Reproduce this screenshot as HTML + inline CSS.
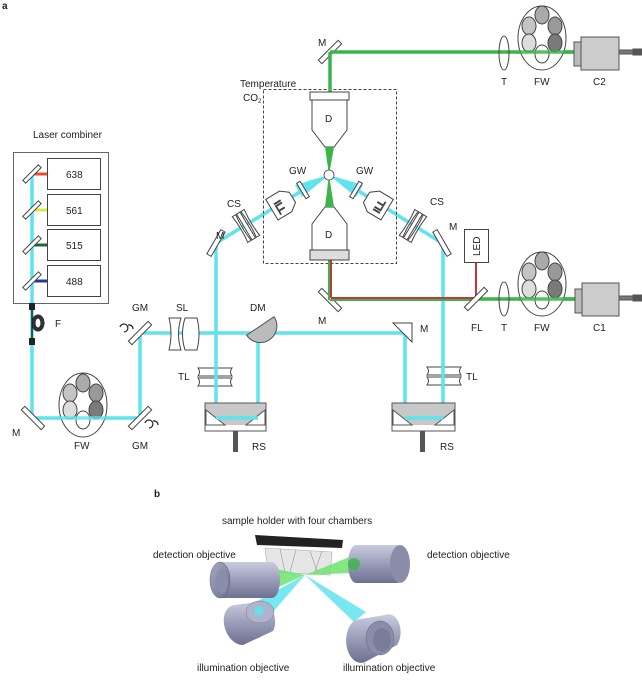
<!DOCTYPE html>
<html><head><meta charset="utf-8"><style>
body{margin:0;background:#fff}
svg{display:block}
text{font-family:"Liberation Sans",sans-serif;font-size:10px;fill:#222}
</style></head><body>
<svg width="642" height="700" viewBox="0 0 642 700" xmlns="http://www.w3.org/2000/svg">
<defs>
<linearGradient id="cyl" x1="0" y1="0" x2="0" y2="1">
<stop offset="0" stop-color="#c9cce0"/><stop offset="0.5" stop-color="#9a9db8"/><stop offset="1" stop-color="#6d7090"/>
</linearGradient>
<linearGradient id="face" x1="0" y1="0" x2="1" y2="1">
<stop offset="0" stop-color="#a8abc4"/><stop offset="1" stop-color="#6a6d8c"/>
</linearGradient>
</defs>
<text x="2" y="9" font-weight="bold" font-size="11">a</text>
<text x="33" y="138">Laser combiner</text>
<rect x="13.5" y="152.5" width="95" height="151" fill="#fff" stroke="#666"/>
<g fill="#fff" stroke="#444">
<rect x="47.5" y="158.5" width="53" height="31"/><rect x="47.5" y="194.5" width="53" height="31"/>
<rect x="47.5" y="229.5" width="53" height="31"/><rect x="47.5" y="265.5" width="53" height="31"/>
</g>
<text x="66" y="178">638</text><text x="66" y="214">561</text><text x="66" y="249">515</text><text x="66" y="285">488</text>
<line x1="32" y1="174" x2="32" y2="418" stroke="#5fe3ee" stroke-width="3.5"/>
<line x1="32" y1="174" x2="47" y2="174" stroke="#e8502a" stroke-width="3"/>
<line x1="32" y1="210" x2="47" y2="210" stroke="#d4ef3c" stroke-width="3"/>
<line x1="32" y1="245" x2="47" y2="245" stroke="#1d6a38" stroke-width="3"/>
<line x1="32" y1="281" x2="47" y2="281" stroke="#28389a" stroke-width="3"/>
<rect x="29" y="303" width="6" height="7" fill="#222"/><rect x="29" y="338" width="6" height="7" fill="#222"/>
<line x1="32" y1="310" x2="32" y2="338" stroke="#222" stroke-width="1.5"/>
<g fill="none" stroke="#222" stroke-width="1"><ellipse cx="38" cy="323" rx="6" ry="8"/><ellipse cx="38" cy="323" rx="5" ry="7"/><ellipse cx="38" cy="323" rx="4" ry="6"/><ellipse cx="38" cy="323" rx="3" ry="5"/></g>
<text x="55" y="327">F</text>
<g stroke="#5fe3ee" stroke-width="3.5" fill="none">
<polyline points="32,418 140,418 140,333 405,333 405,418 443,418 443,243 442,243 357,190"/>
<polyline points="216,243 216,418 258,418 258,333"/>
<line x1="216" y1="243" x2="300" y2="192"/>
</g>
<polygon points="329,175 295,185 302,197" fill="#5fe3ee"/>
<polygon points="329,175 363,185 356,197" fill="#5fe3ee"/>
<g fill="#fff" stroke="#444">
<g transform="translate(32,174) rotate(-45)"><rect x="-11" y="-2" width="22" height="4"/></g>
<g transform="translate(32,210) rotate(-45)"><rect x="-11" y="-2" width="22" height="4"/></g>
<g transform="translate(32,245) rotate(-45)"><rect x="-11" y="-2" width="22" height="4"/></g>
<g transform="translate(32,281) rotate(-45)"><rect x="-11" y="-2" width="22" height="4"/></g>
<g transform="translate(33,418) rotate(45)"><rect x="-14" y="-2.5" width="28" height="5"/></g>
<g transform="translate(140,418) rotate(-45)"><rect x="-14" y="-2.5" width="28" height="5"/></g>
<g transform="translate(140,333) rotate(-45)"><rect x="-14" y="-2.5" width="28" height="5"/></g>
<g transform="translate(216,243) rotate(-60)"><rect x="-14" y="-2.5" width="28" height="5"/></g>
<g transform="translate(442,243) rotate(60)"><rect x="-14" y="-2.5" width="28" height="5"/></g>
<g transform="translate(330,52) rotate(-45)"><rect x="-14" y="-2.5" width="28" height="5"/></g>
<g transform="translate(330,300) rotate(45)"><rect x="-14" y="-2.5" width="28" height="5"/></g>
</g>
<polygon points="393,323 412,323 412,342" fill="#fff" stroke="#444"/>
<g fill="none" stroke="#222" stroke-width="1.2">
<path d="M120,327 a4,4 0 1 1 4,5"/><path d="M128,325 a4,4 0 0 1 5,4"/>
<path d="M145,423 a4,4 0 1 1 4,5"/><path d="M153,421 a4,4 0 0 1 5,4"/>
</g>
<text x="132" y="311">GM</text><text x="132" y="449">GM</text>
<text x="12" y="436">M</text>
<g stroke="#444"><ellipse cx="83" cy="405" rx="24" ry="32" fill="#fff"/>
<ellipse cx="83" cy="383" rx="7" ry="9" fill="#aaa"/><ellipse cx="70" cy="393" rx="7" ry="9" fill="#c4c4c4"/>
<ellipse cx="96" cy="393" rx="7" ry="9" fill="#999"/><ellipse cx="70" cy="410" rx="7" ry="9" fill="#ddd"/>
<ellipse cx="96" cy="410" rx="7" ry="9" fill="#7a7a7a"/><ellipse cx="83" cy="420" rx="7" ry="9" fill="#fff"/></g>
<line x1="59" y1="418" x2="107" y2="418" stroke="#5fe3ee" stroke-width="3.5" opacity="0.8"/>
<text x="74" y="449">FW</text>
<g fill="#fff" stroke="#444">
<path d="M169,318 h12 q-5,16 0,32 h-12 q4,-16 0,-32z"/>
<path d="M185,318 h12 q4,16 0,32 h-12 q-5,-16 0,-32z"/>
</g>
<text x="176" y="311">SL</text>
<path d="M246,334 L275,318 A16,16 0 0 1 246,334z" fill="#bbb" stroke="#555" transform="rotate(-5 260 328)"/>
<text x="250" y="311">DM</text>
<g fill="#fff" stroke="#444">
<path d="M198,368 h34 q-3,4 0,8 h-34 q3,-4 0,-8z"/><path d="M198,378 h34 q-3,4 0,8 h-34 q3,-4 0,-8z"/>
<path d="M427,367 h34 q-3,4 0,8 h-34 q3,-4 0,-8z"/><path d="M427,377 h34 q-3,4 0,8 h-34 q3,-4 0,-8z"/>
</g>
<line x1="216" y1="366" x2="216" y2="388" stroke="#5fe3ee" stroke-width="3.5"/>
<line x1="443" y1="365" x2="443" y2="388" stroke="#5fe3ee" stroke-width="3.5"/>
<text x="178" y="380">TL</text><text x="466" y="380">TL</text>
<g>
<rect x="205" y="403" width="61" height="28" fill="#fff" stroke="#555"/>
<rect x="205" y="403" width="61" height="22" fill="#c8c8c8"/>
<polygon points="206,410 225,425 206,425" fill="#fff" stroke="#555"/>
<polygon points="265,410 246,425 265,425" fill="#fff" stroke="#555"/>
<rect x="205" y="403" width="61" height="28" fill="none" stroke="#555"/>
<rect x="233" y="431" width="5" height="21" fill="#555"/>
<rect x="392" y="403" width="63" height="28" fill="#fff" stroke="#555"/>
<rect x="392" y="403" width="63" height="22" fill="#c8c8c8"/>
<polygon points="393,410 412,425 393,425" fill="#fff" stroke="#555"/>
<polygon points="454,410 435,425 454,425" fill="#fff" stroke="#555"/>
<rect x="392" y="403" width="63" height="28" fill="none" stroke="#555"/>
<rect x="420" y="431" width="5" height="21" fill="#555"/>
</g>
<line x1="216" y1="418" x2="258" y2="418" stroke="#5fe3ee" stroke-width="3.5"/>
<line x1="405" y1="418" x2="443" y2="418" stroke="#5fe3ee" stroke-width="3.5"/>
<text x="252" y="450">RS</text><text x="440" y="450">RS</text>
<text x="420" y="332">M</text>
<g fill="#fff" stroke="#444">
<g transform="translate(246,226) rotate(-31)"><path d="M-7,-15 h4 q-2,15 0,30 h-4 q2,-15 0,-30z"/><path d="M-2,-15 h4 v30 h-4z"/><path d="M3,-15 h4 q-2,15 0,30 h-4 q2,-15 0,-30z"/></g>
<g transform="translate(413,226) rotate(31)"><path d="M-7,-15 h4 q-2,15 0,30 h-4 q2,-15 0,-30z"/><path d="M-2,-15 h4 v30 h-4z"/><path d="M3,-15 h4 q-2,15 0,30 h-4 q2,-15 0,-30z"/></g>
<g transform="translate(283,203) rotate(-31)"><path d="M-13,-12 h16 l8,6 v12 l-8,6 h-16z"/><text x="-9" y="4" transform="rotate(90 -4 0)" font-size="9">ILL</text></g>
<g transform="translate(376,203) rotate(31)"><path d="M13,-12 h-16 l-8,6 v12 l8,6 h16z"/><text x="-4" y="4" transform="rotate(-90 4 0)" font-size="9">ILL</text></g>
<g transform="translate(303,190) rotate(-31)"><rect x="-2" y="-9" width="4" height="18"/></g>
<g transform="translate(356,190) rotate(31)"><rect x="-2" y="-9" width="4" height="18"/></g>
</g>
<text x="216" y="239">M</text><text x="227" y="207">CS</text><text x="289" y="174">GW</text>
<text x="356" y="174">GW</text><text x="430" y="205">CS</text><text x="449" y="230">M</text>
<rect x="263.5" y="89.5" width="133" height="174" fill="none" stroke="#444" stroke-dasharray="3,2"/>
<text x="240" y="87">Temperature</text><text x="243" y="101">CO<tspan font-size="6" dy="2">2</tspan></text>
<line x1="330" y1="52" x2="330" y2="92" stroke="#3cb44b" stroke-width="3.5"/>
<line x1="330" y1="52" x2="578" y2="52" stroke="#3cb44b" stroke-width="3.5"/>
<line x1="329" y1="260" x2="329" y2="300" stroke="#3cb44b" stroke-width="2"/>
<line x1="331" y1="260" x2="331" y2="298" stroke="#c8343c" stroke-width="2"/>
<line x1="330" y1="300" x2="476" y2="300" stroke="#3cb44b" stroke-width="2"/>
<line x1="331" y1="298" x2="476" y2="298" stroke="#c8343c" stroke-width="2"/>
<line x1="476" y1="262" x2="476" y2="299" stroke="#c8343c" stroke-width="2"/>
<line x1="476" y1="299" x2="578" y2="299" stroke="#3cb44b" stroke-width="3.5"/>
<rect x="464.5" y="229.5" width="24" height="33" fill="#fff" stroke="#444"/>
<text x="480" y="256" transform="rotate(-90 480 256)" font-size="9">LED</text>
<g transform="translate(476,299) rotate(-45)"><rect x="-14" y="-2.5" width="28" height="5" fill="#fff" stroke="#444"/></g>
<g fill="#fff" stroke="#444">
<rect x="310" y="92" width="39" height="8"/><path d="M312,100 h35 v30 l-13,17 h-9 l-13,-17z"/>
<path d="M325,207 h9 l13,17 v26 h-35 v-26z"/><rect x="310" y="250" width="39" height="10" fill="#ddd"/>
</g>
<polygon points="325,147 334,147 329,175" fill="#3cb44b"/>
<polygon points="329,175 325,207 334,207" fill="#3cb44b"/>
<circle cx="329" cy="175" r="5" fill="#fff" stroke="#444" stroke-width="0.8"/>
<text x="325" y="122">D</text><text x="325" y="238">D</text>
<text x="318" y="46">M</text><text x="318" y="324">M</text>
<ellipse cx="504" cy="53" rx="5" ry="17" fill="none" stroke="#444"/>
<ellipse cx="504" cy="299" rx="5" ry="17" fill="none" stroke="#444"/>
<g stroke="#444">
<ellipse cx="542" cy="38" rx="24" ry="32" fill="#fff"/>
<ellipse cx="542" cy="15" rx="7" ry="9" fill="#aaa"/><ellipse cx="529" cy="26" rx="7" ry="9" fill="#c4c4c4"/>
<ellipse cx="555" cy="26" rx="7" ry="9" fill="#999"/><ellipse cx="529" cy="43" rx="7" ry="9" fill="#ddd"/>
<ellipse cx="555" cy="43" rx="7" ry="9" fill="#7a7a7a"/><ellipse cx="542" cy="54" rx="7" ry="9" fill="#fff"/>
<ellipse cx="542" cy="284" rx="24" ry="32" fill="#fff"/>
<ellipse cx="542" cy="261" rx="7" ry="9" fill="#aaa"/><ellipse cx="529" cy="272" rx="7" ry="9" fill="#c4c4c4"/>
<ellipse cx="555" cy="272" rx="7" ry="9" fill="#999"/><ellipse cx="529" cy="289" rx="7" ry="9" fill="#ddd"/>
<ellipse cx="555" cy="289" rx="7" ry="9" fill="#7a7a7a"/><ellipse cx="542" cy="300" rx="7" ry="9" fill="#fff"/>
</g>
<line x1="518" y1="52" x2="578" y2="52" stroke="#3cb44b" stroke-width="3.5" opacity="0.85"/>
<line x1="518" y1="299" x2="578" y2="299" stroke="#3cb44b" stroke-width="3.5" opacity="0.85"/>
<g stroke="#555">
<rect x="574" y="42" width="8" height="24" fill="#bbb"/><rect x="581" y="37" width="38" height="33" fill="#ccc"/>
<rect x="619" y="50" width="14" height="4" fill="#777"/><rect x="633" y="49" width="9" height="6" fill="#555"/>
<rect x="575" y="289" width="8" height="24" fill="#bbb"/><rect x="582" y="283" width="37" height="33" fill="#ccc"/>
<rect x="619" y="296" width="14" height="4" fill="#777"/><rect x="633" y="295" width="9" height="6" fill="#555"/>
</g>
<text x="501" y="85">T</text><text x="534" y="85">FW</text><text x="593" y="85">C2</text>
<text x="471" y="331">FL</text><text x="501" y="331">T</text><text x="534" y="331">FW</text><text x="593" y="331">C1</text>
<text x="154" y="497" font-weight="bold" font-size="11">b</text>
<text x="222" y="524" font-size="9.5">sample holder with four chambers</text>
<text x="153" y="558" font-size="9.5">detection objective</text>
<text x="427" y="558" font-size="9.5">detection objective</text>
<text x="197" y="671" font-size="9.5">illumination objective</text>
<text x="343" y="671" font-size="9.5">illumination objective</text>
<polygon points="265,548 332,552 330,575 268,572" fill="#e6e6e6" stroke="#aaa" stroke-width="0.6"/>
<g stroke="#999" stroke-width="0.6"><line x1="280" y1="549" x2="285" y2="572"/><line x1="296" y1="550" x2="290" y2="572"/><line x1="310" y1="551" x2="318" y2="574"/><line x1="322" y1="551" x2="314" y2="574"/></g>
<polygon points="255,535 343,540 342,548 257,545" fill="#222"/>
<polygon points="305,575 272,568 272,590" fill="#6de36d" opacity="0.85"/>
<polygon points="305,575 352,556 352,573" fill="#6de36d" opacity="0.85"/>
<polygon points="305,575 252,604 266,620" fill="#5fe3ee" opacity="0.85"/>
<polygon points="305,575 354,622 366,612" fill="#5fe3ee" opacity="0.85"/>
<path d="M220,562 h52 a8,18 0 0 1 0,36 h-52z" fill="url(#cyl)"/>
<ellipse cx="220" cy="580" rx="10" ry="18" fill="url(#face)" stroke="#667" stroke-width="0.5"/>
<ellipse cx="222" cy="582" rx="6" ry="12" fill="#8a8daa"/>
<path d="M398,545 h-42 a8,19 0 0 0 0,38 h42z" fill="url(#cyl)"/>
<ellipse cx="400" cy="564" rx="10" ry="19" fill="#8a8daa"/>
<circle cx="354" cy="564" r="6" fill="#3cb44b" opacity="0.8"/>
<path d="M235,605 l30,-4 a14,20 -20 0 1 8,30 l-30,14 a14,20 -20 0 1 -8,-40z" fill="url(#cyl)"/>
<ellipse cx="260" cy="612" rx="14" ry="11" fill="#b0b3cc" stroke="#778" stroke-width="0.5"/>
<circle cx="259" cy="611" r="5" fill="#5fe3ee" opacity="0.8"/>
<path d="M355,620 l30,-5 a12,18 0 0 1 12,30 l-30,16 a12,18 0 0 1 -12,-41z" fill="url(#cyl)"/>
<ellipse cx="380" cy="638" rx="14" ry="17" fill="#8a8daa" stroke="#667" stroke-width="0.5"/>
<ellipse cx="382" cy="640" rx="9" ry="12" fill="#7a7d9a"/>
</svg>
</body></html>
